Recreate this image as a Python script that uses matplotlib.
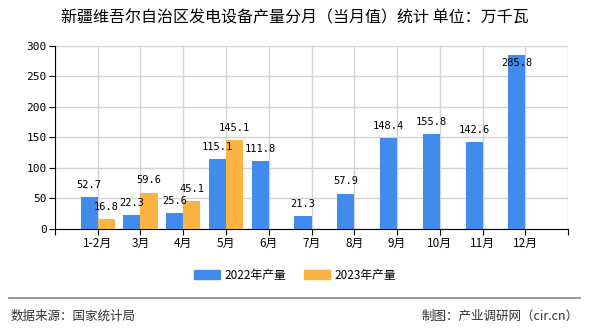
import matplotlib
matplotlib.use('Agg')
import matplotlib.pyplot as plt
import matplotlib.patches as mpatches
from matplotlib.lines import Line2D
import numpy as np

plt.rcParams['font.family'] = ['Noto Sans CJK SC', 'DejaVu Sans']

months = ['1-2月', '3月', '4月', '5月', '6月', '7月', '8月', '9月', '10月', '11月', '12月']
prod_2022 = [52.7, 22.3, 25.6, 115.1, 111.8, 21.3, 57.9, 148.4, 155.8, 142.6, 285.8]
prod_2023 = [16.8, 59.6, 45.1, 145.1]

blue = '#418bec'
orange = '#fbb342'
mono = ['DejaVu Sans Mono', 'Noto Sans CJK SC']

fig = plt.figure(figsize=(5.9, 3.3), dpi=100)
ax = fig.add_axes([0.093, 0.306, 0.870, 0.555])

x = np.arange(1, len(months) + 1)
w = 0.4
ax.bar(x[:len(prod_2022)] - w / 2, prod_2022, width=w, color=blue, zorder=3)
ax.bar(x[:len(prod_2023)] + w / 2, prod_2023, width=w, color=orange, zorder=3)

def label(xs, vals):
    for xi, v in zip(xs, vals):
        y = min(v + 20, 272)
        ax.text(xi, y, f'{v:.1f}', ha='center', va='center', fontsize=7.5,
                family=mono, zorder=5)

label(x[:len(prod_2022)] - w / 2, prod_2022)
label(x[:len(prod_2023)] + w / 2, prod_2023)

ax.set_xlim(0, 12)
ax.set_ylim(0, 300)
ax.set_xticks(np.arange(0, 13))
ax.set_xticklabels([''] + months + [''], fontsize=8.5)
ax.set_yticks(np.arange(0, 301, 50))
ax.tick_params(axis='y', labelsize=8, length=4, pad=2)
ax.tick_params(axis='x', length=4, pad=2)
for t in ax.get_yticklabels():
    t.set_family(mono)
ax.grid(True, color='#d4d4d4', lw=1, zorder=0)
ax.spines['top'].set_visible(False)
ax.spines['right'].set_visible(False)
ax.spines['left'].set_color('black')
ax.spines['bottom'].set_color('black')
ax.set_axisbelow(True)

fig.text(0.5, 0.945, '新疆维吾尔自治区发电设备产量分月（当月值）统计 单位：万千瓦',
         ha='center', va='center', fontsize=11.5)

handles = [mpatches.Patch(color=blue, label='2022年产量'),
           mpatches.Patch(color=orange, label='2023年产量')]
fig.legend(handles=handles, loc='center', bbox_to_anchor=(0.5, 0.165), ncol=2,
           frameon=False, fontsize=8.5, handlelength=2.2, handleheight=0.8,
           columnspacing=1.5, handletextpad=0.4)

fig.add_artist(Line2D([0.015, 0.983], [0.097, 0.097], color='#888888', lw=1.2))
fig.text(0.017, 0.042, '数据来源：国家统计局', ha='left', va='center', fontsize=9, color='#333333')
fig.text(0.98, 0.042, '制图：产业调研网（cir.cn）', ha='right', va='center', fontsize=9, color='#333333')

fig.savefig('out.png', dpi=100)
